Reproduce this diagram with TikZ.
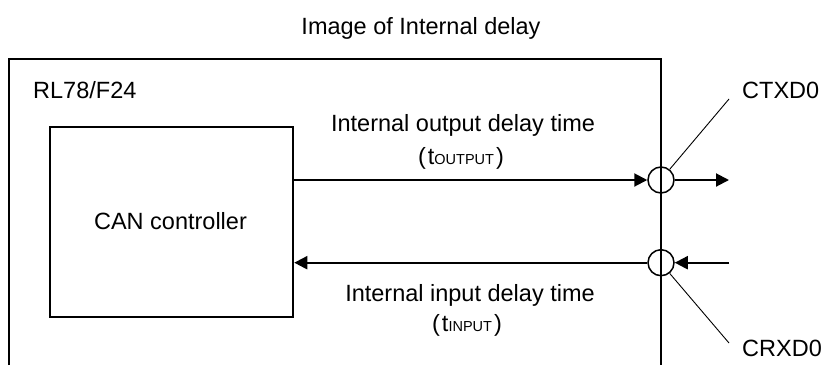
\documentclass[tikz,border=0pt]{standalone}
\usepackage{fontspec}
\setmainfont{Liberation Sans}
\usetikzlibrary{arrows.meta}
\newcommand{\mainsz}{\fontsize{23.5}{28}\selectfont}
\newcommand{\subsz}{\fontsize{14.5}{16}\selectfont}
\begin{document}
\begin{tikzpicture}[x=1pt,y=-1pt,
  lbl/.style={inner sep=0pt,font=\mainsz,anchor=base},
  pin/.style={circle,draw,line width=1.5pt,minimum size=26pt,inner sep=0pt},
  sig/.style={line width=2pt,-{Triangle[length=13pt,width=13pt]}},
  lead/.style={line width=0.9pt}]
\useasboundingbox (0,0) rectangle (827,365);
% outer chip frame (open at bottom)
\coordinate (obl) at (9,365);
\coordinate (otl) at (9,59);
\coordinate (otr) at (661,59);
\coordinate (obr) at (661,365);
\draw[line width=2pt] (obl) -- (otl) -- (otr) -- (obr);
% title and labels
\node[lbl] (title) at (421,34) {Image of Internal delay};
\node[lbl,anchor=base west] (chip) at (33,98) {RL78/F24};
\node[draw,line width=2.5pt,minimum width=243pt,minimum height=190pt,inner sep=0pt] (ctrl) at (171.5,222) {};
\node[lbl] (ctrltxt) at (170.5,229.3) {CAN controller};
% pins
\node[pin] (tx) at (661,180) {};
\node[pin] (rx) at (661,262.7) {};
\coordinate (txend) at (729,180);
\coordinate (rxstart) at (729,262.7);
% signals
\draw[sig] (ctrl.east |- tx) -- (tx.west);
\draw[sig] (tx.east) -- (txend);
\draw[sig] (rxstart) -- (rx.east);
\draw[sig] (rx.west) -- (ctrl.east |- rx);
% delay labels
\node[lbl] (outlbl) at (463,131.7) {Internal output delay time};
\node[lbl] (outsub) at (461,164) {(\kern2pt t{\subsz OUTPUT}\kern2pt)};
\node[lbl] (inlbl) at (470,301.7) {Internal input delay time};
\node[lbl] (insub) at (467,331) {(\kern2pt t{\subsz INPUT}\kern2pt)};
% pin names
\node[lbl,anchor=base west] (ctxd) at (742,98.3) {CTXD0};
\node[lbl,anchor=base west] (crxd) at (742,356.7) {CRXD0};
\coordinate (ctxdlead) at (729,99);
\coordinate (crxdlead) at (729,343);
\draw[lead] (tx.north east) ++(-1,-1) coordinate (txl) (ctxdlead) -- (txl);
\draw[lead] (rx.south east) ++(-1,1) coordinate (rxl) (crxdlead) -- (rxl);
\end{tikzpicture}
\end{document}
